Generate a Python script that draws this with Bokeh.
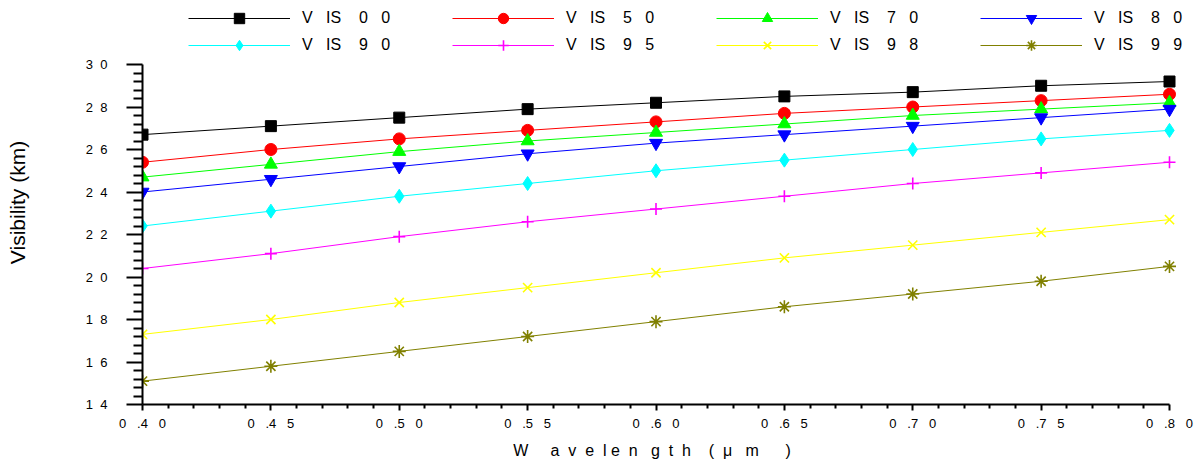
from bokeh.plotting import figure
from bokeh.models import (Range1d, FixedTicker, Legend, LegendItem)
from bokeh.embed import file_html
from bokeh.resources import INLINE

# ---------------- data ----------------
wavelength = [0.40, 0.45, 0.50, 0.55, 0.60, 0.65, 0.70, 0.75, 0.80]

vis00 = [26.7, 27.1, 27.5, 27.9, 28.2, 28.5, 28.7, 29.0, 29.2]
vis50 = [25.4, 26.0, 26.5, 26.9, 27.3, 27.7, 28.0, 28.3, 28.6]
vis70 = [24.7, 25.3, 25.9, 26.4, 26.8, 27.2, 27.6, 27.9, 28.2]
vis80 = [24.0, 24.6, 25.2, 25.8, 26.3, 26.7, 27.1, 27.5, 27.9]
vis90 = [22.4, 23.1, 23.8, 24.4, 25.0, 25.5, 26.0, 26.5, 26.9]
vis95 = [20.4, 21.1, 21.9, 22.6, 23.2, 23.8, 24.4, 24.9, 25.4]
vis98 = [17.3, 18.0, 18.8, 19.5, 20.2, 20.9, 21.5, 22.1, 22.7]
vis99 = [15.1, 15.8, 16.5, 17.2, 17.9, 18.6, 19.2, 19.8, 20.5]

series_names = ["VIS00", "VIS50", "VIS70", "VIS80", "VIS90", "VIS95", "VIS98", "VIS99"]
series_values = [vis00, vis50, vis70, vis80, vis90, vis95, vis98, vis99]

x_ticks = [0.40, 0.45, 0.50, 0.55, 0.60, 0.65, 0.70, 0.75, 0.80]
x_tick_labels = ["0.40", "0.45", "0.50", "0.55", "0.60", "0.65", "0.70", "0.75", "0.80"]
y_ticks = [14, 16, 18, 20, 22, 24, 26, 28, 30]
y_tick_labels = ["14", "16", "18", "20", "22", "24", "26", "28", "30"]

x_title = "Wavelength(μm)"
y_title = "Visibility (km)"

# ---------------- styles / layout ----------------
colors = ["#000000", "#ff0000", "#00ff00", "#0000ff", "#00ffff", "#ff00ff", "#ffff00", "#808000"]
markers = ["square", "circle", "triangle", "inverted_triangle", "diamond", "cross", "x", "asterisk"]
marker_sizes = [11, 12, 13, 13, 14, 12, 13, 13]

NB = "\u00a0"
REG = "Liberation Sans"

X_MIN, X_MAX = 0.40, 0.80
Y_MIN, Y_MAX = 14, 30
AXIS_W, AXIS_H = 1027, 340      # pixel size of the drawn axes
FRAME_W, FRAME_H = 1059, 404    # frame extends right/up to host the legend
x_right = X_MIN + (X_MAX - X_MIN) * FRAME_W / AXIS_W
y_top = Y_MIN + (Y_MAX - Y_MIN) * FRAME_H / AXIS_H


def spaced_tick_x(s):
    return s[0] + NB * 3 + s[1:3] + NB * 3 + s[3]


def spaced_tick_y(s):
    return s[0] + NB * 2 + s[1]


def spaced_legend(s):
    return s[0] + NB * 3 + s[1:3] + NB * 4 + s[3] + NB * 3 + s[4]


def spaced_xtitle(s):
    gaps = [5, 2, 2, 2, 1, 2, 3, 2, 2, 4, 2, 3, 6]
    out = ""
    for i, ch in enumerate(s):
        out += ch
        if i < len(gaps):
            out += NB * gaps[i]
    # trailing padding keeps the title centred under the drawn axis
    return out + NB * 9


p = figure(
    frame_width=FRAME_W, frame_height=FRAME_H,
    min_border_left=142, min_border_right=0, min_border_top=0, min_border_bottom=60,
    x_range=Range1d(X_MIN, x_right), y_range=Range1d(Y_MIN, y_top),
    output_backend="svg", toolbar_location=None,
)
p.outline_line_color = None
p.xgrid.visible = False
p.ygrid.visible = False
p.background_fill_color = "white"
p.border_fill_color = "white"

items = []
for name, vals, col, mk, ms in zip(series_names, series_values, colors, markers, marker_sizes):
    lr = p.line(wavelength, vals, line_color=col, line_width=1)
    sr = p.scatter(wavelength, vals, marker=mk, size=ms, fill_color=col,
                   line_color=col, line_width=1.6 if mk in ("cross", "x", "asterisk") else 1)
    items.append(LegendItem(label=spaced_legend(name), renderers=[lr, sr]))

legend = Legend(
    items=items, orientation="horizontal", ncols=4,
    location=(46, 346),
    glyph_width=102, glyph_height=26, label_height=26, label_standoff=12, label_width=149,
    spacing=1, padding=0, margin=0,
    border_line_color=None, background_fill_alpha=0,
    label_text_font=REG, label_text_font_size="16px", label_text_color="black",
)
p.add_layout(legend, "center")

# x axis
xa = p.xaxis[0]
minor_x = [round(0.40 + 0.01 * i, 2) for i in range(41) if i % 5 != 0]
xa.ticker = FixedTicker(ticks=x_ticks, minor_ticks=minor_x)
xa.bounds = (X_MIN, X_MAX)
xa.major_label_overrides = {t: spaced_tick_x(l) for t, l in zip(x_ticks, x_tick_labels)}
xa.axis_label = spaced_xtitle(x_title)
xa.axis_label_text_font = REG
xa.axis_label_text_font_size = "16px"
xa.axis_label_text_font_style = "normal"
xa.axis_label_text_color = "black"
xa.axis_label_standoff = 8
xa.major_label_text_font = REG
xa.major_label_text_font_size = "13px"
xa.major_label_text_color = "black"
xa.major_label_standoff = 5
xa.axis_line_width = 2
xa.major_tick_line_width = 2
xa.minor_tick_line_width = 2
xa.major_tick_in = 0
xa.major_tick_out = 6
xa.minor_tick_in = 0
xa.minor_tick_out = 4

# y axis
ya = p.yaxis[0]
minor_y = [round(14 + 0.4 * i, 1) for i in range(41) if i % 5 != 0]
ya.ticker = FixedTicker(ticks=y_ticks, minor_ticks=minor_y)
ya.bounds = (Y_MIN, Y_MAX)
ya.major_label_overrides = {t: spaced_tick_y(l) for t, l in zip(y_ticks, y_tick_labels)}
ya.axis_label = y_title
ya.axis_label_text_font = REG
ya.axis_label_text_font_size = "21px"
ya.axis_label_text_font_style = "normal"
ya.axis_label_text_color = "black"
ya.axis_label_standoff = 54
ya.major_label_text_font = REG
ya.major_label_text_font_size = "13px"
ya.major_label_text_color = "black"
ya.major_label_standoff = 19
ya.axis_line_width = 2
ya.major_tick_line_width = 2
ya.minor_tick_line_width = 2
ya.major_tick_in = 0
ya.major_tick_out = 16
ya.minor_tick_in = 0
ya.minor_tick_out = 9

open("out.html", "w").write(file_html(p, INLINE))
